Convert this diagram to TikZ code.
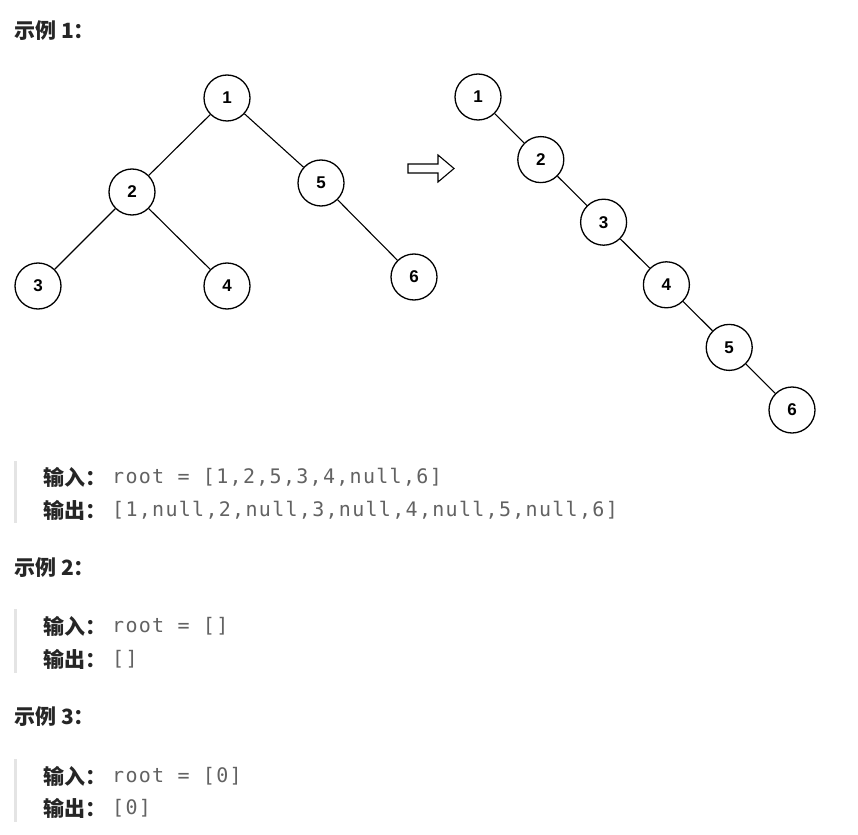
\documentclass[tikz,border=0pt]{standalone}
\usepackage{fontspec}
\newfontfamily\cjkfont{Noto Sans CJK SC}
\newfontfamily\numfont{Liberation Sans}
\newfontfamily\codefont{DejaVu Sans Mono}[LetterSpace=6.5]
\usetikzlibrary{positioning}
\definecolor{textdark}{HTML}{262626}
\definecolor{codegray}{HTML}{626262}
\definecolor{quotebar}{HTML}{E4E4E4}

\begin{document}
\begin{tikzpicture}[
    x=1pt, y=-1pt,
    node distance=62.6pt and 62.8pt,
    tnode/.style={circle, draw, line width=1.3pt, minimum size=46pt,
                  inner sep=0pt, fill=white,
                  font=\numfont\bfseries\fontsize{17}{17}\selectfont},
    edge/.style={line width=1.1pt},
    title/.style={anchor=west, inner sep=0pt, text=textdark,
                  font=\cjkfont\bfseries\fontsize{21}{25}\selectfont},
    code/.style={anchor=west, inner sep=0pt, text=codegray,
                 font=\codefont\fontsize{20}{24}\selectfont},
    bar/.style={quotebar, line width=3pt}
]
  \useasboundingbox (0,0) rectangle (858,834);

  % example 1
  \node[title] (ex1) at (14,31) {示例 1：};

  % tree before
  \node[tnode] (a1) at (227,98) {1};
  \node[tnode] (a2) at (132,192) {2};
  \node[tnode] (a5) at (321,183) {5};
  \node[tnode] (a3) at (38,286) {3};
  \node[tnode] (a4) at (227,286) {4};
  \node[tnode] (a6) at (414,277) {6};

  \draw[edge] (a1) -- (a2);
  \draw[edge] (a1) -- (a5);
  \draw[edge] (a2) -- (a3);
  \draw[edge] (a2) -- (a4);
  \draw[edge] (a5) -- (a6);

  % hollow arrow
  \draw[line width=1.1pt, line join=miter]
    (408,164) -- (438,164) -- (438,155) -- (454,168.5)
    -- (438,182) -- (438,173) -- (408,173) -- cycle;

  % flattened list
  \node[tnode] (b1) at (478,97) {1};
  \node[tnode, on grid, below right=of b1] (b2) {2};
  \node[tnode, on grid, below right=of b2] (b3) {3};
  \node[tnode, on grid, below right=of b3] (b4) {4};
  \node[tnode, on grid, below right=of b4] (b5) {5};
  \node[tnode, on grid, below right=of b5] (b6) {6};

  \foreach \i/\j in {b1/b2, b2/b3, b3/b4, b4/b5, b5/b6}
    \draw[edge] (\i) -- (\j);

  \draw[bar] (15,461) -- (15,523);
  \node[title] (in1) at (43,477) {输入：};
  \node[code] (in1v) at (112,477) {root = [1,2,5,3,4,null,6]};
  \node[title] (out1) at (43,510) {输出：};
  \node[code] (out1v) at (112,510) {[1,null,2,null,3,null,4,null,5,null,6]};

  % example 2
  \node[title] (ex2) at (14,568) {示例 2：};
  \draw[bar] (15,609) -- (15,673);
  \node[title] (in2) at (43,626) {输入：};
  \node[code] (in2v) at (112,626) {root = []};
  \node[title] (out2) at (43,659) {输出：};
  \node[code] (out2v) at (112,659) {[]};

  % example 3
  \node[title] (ex3) at (14,717) {示例 3：};
  \draw[bar] (15,759) -- (15,822);
  \node[title] (in3) at (43,776) {输入：};
  \node[code] (in3v) at (112,776) {root = [0]};
  \node[title] (out3) at (43,808) {输出：};
  \node[code] (out3v) at (112,808) {[0]};
\end{tikzpicture}
\end{document}
